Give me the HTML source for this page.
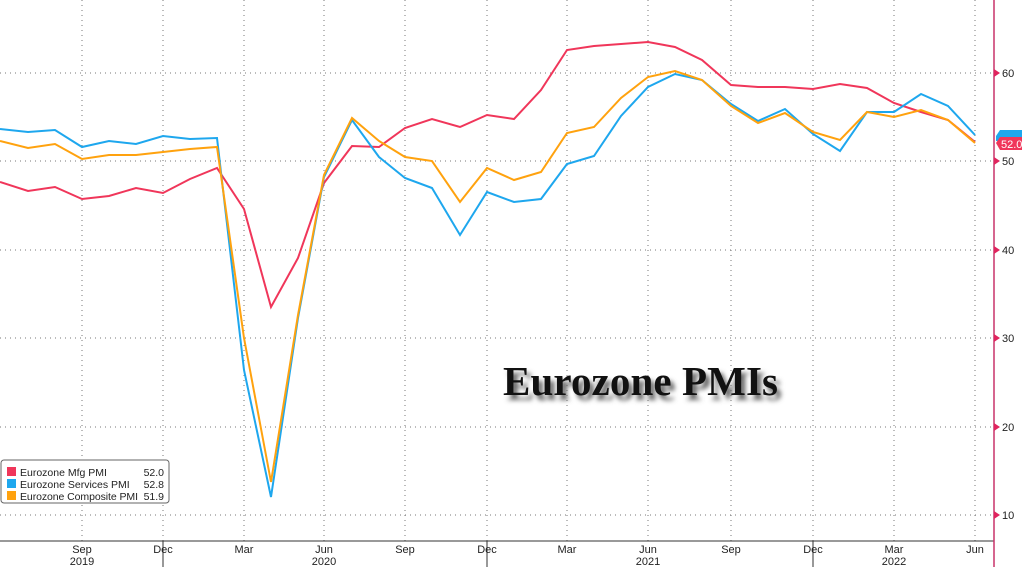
<!DOCTYPE html>
<html><head><meta charset="utf-8"><style>
body{margin:0;background:#fff;}
svg{display:block;font-family:"Liberation Sans",sans-serif;}
</style></head><body>
<svg width="1024" height="567" viewBox="0 0 1024 567">
<defs><filter id="b" x="-10%" y="-30%" width="120%" height="160%"><feGaussianBlur stdDeviation="2.5"/></filter></defs>
<rect width="1024" height="567" fill="#fff"/>
<g stroke="#777" stroke-width="1" stroke-dasharray="1,4">
<line x1="0" y1="73" x2="994" y2="73"/><line x1="0" y1="161" x2="994" y2="161"/>
<line x1="0" y1="250" x2="994" y2="250"/><line x1="0" y1="338" x2="994" y2="338"/>
<line x1="0" y1="427" x2="994" y2="427"/><line x1="0" y1="515" x2="994" y2="515"/>
<line x1="82" y1="0" x2="82" y2="541"/><line x1="163" y1="0" x2="163" y2="541"/>
<line x1="244" y1="0" x2="244" y2="541"/><line x1="324" y1="0" x2="324" y2="541"/>
<line x1="405" y1="0" x2="405" y2="541"/><line x1="487" y1="0" x2="487" y2="541"/>
<line x1="567" y1="0" x2="567" y2="541"/><line x1="648" y1="0" x2="648" y2="541"/>
<line x1="731" y1="0" x2="731" y2="541"/><line x1="813" y1="0" x2="813" y2="541"/>
<line x1="894" y1="0" x2="894" y2="541"/><line x1="975" y1="0" x2="975" y2="541"/>
</g>
<line x1="0" y1="541" x2="994" y2="541" stroke="#333"/>
<g stroke="#333"><line x1="487" y1="541" x2="487" y2="567"/><line x1="163" y1="541" x2="163" y2="567"/><line x1="813" y1="541" x2="813" y2="567"/></g>
<line x1="994" y1="0" x2="994" y2="567" stroke="#c8336a" stroke-width="1.5"/>
<text x="507" y="400" font-family="Liberation Serif,serif" font-weight="bold" font-size="41" fill="#666" filter="url(#b)" textLength="275">Eurozone PMIs</text>
<text x="503" y="395" font-family="Liberation Serif,serif" font-weight="bold" font-size="41" fill="#111" textLength="275">Eurozone PMIs</text>
<polyline fill="none" stroke="#f0365a" stroke-width="2" points="0,182 28,191 55,187 82,199 109,196 136,188 163,193 190,179 217,168 244,209 271,307 298,258 324,183 352,146 379,147 405,128 432,119 460,127 487,115 514,119 541,90 567,50 594,46 621,44 648,42 675,47 702,60 731,85 758,87 785,87 813,89 840,84 867,88 894,103 921,112 948,120 975,142"/>
<polyline fill="none" stroke="#1ea7ee" stroke-width="2" points="0,129 28,132 55,130 82,147 109,141 136,144 163,136 190,139 217,138 244,370 271,497 298,318 324,177 352,120 379,157 405,178 432,188 460,235 487,192 514,202 541,199 567,164 594,156 621,116 648,87 675,74 702,80 731,104 758,121 785,109 813,134 840,151 867,112 894,112 921,94 948,106 975,135"/>
<polyline fill="none" stroke="#ffa20e" stroke-width="2" points="0,141 28,148 55,144 82,159 109,155 136,155 163,152 190,149 217,147 244,338 271,482 298,315 324,175 352,118 379,141 405,157 432,161 460,202 487,168 514,180 541,172 567,133 594,127 621,98 648,77 675,71 702,80 731,106 758,123 785,113 813,132 840,140 867,112 894,117 921,110 948,120 975,143"/>
<g font-size="11" fill="#222">
<path d="M994,69 l6,4 l-6,4z" fill="#e0245e"/><text x="1002" y="77">60</text>
<path d="M994,157 l6,4 l-6,4z" fill="#e0245e"/><text x="1002" y="165">50</text>
<path d="M994,246 l6,4 l-6,4z" fill="#e0245e"/><text x="1002" y="254">40</text>
<path d="M994,334 l6,4 l-6,4z" fill="#e0245e"/><text x="1002" y="342">30</text>
<path d="M994,423 l6,4 l-6,4z" fill="#e0245e"/><text x="1002" y="431">20</text>
<path d="M994,511 l6,4 l-6,4z" fill="#e0245e"/><text x="1002" y="519">10</text>
</g>
<path d="M996,136 l4,-6 h22 v11 h-26z" fill="#1ea7ee"/>
<path d="M996,143 l4,-6 h22 v13 h-22z" fill="#f0365a"/>
<text x="1001" y="148" font-size="11" fill="#fff">52.0</text>
<g font-size="11" fill="#222" text-anchor="middle">
<text x="82" y="553">Sep</text><text x="82" y="565">2019</text>
<text x="163" y="553">Dec</text><text x="244" y="553">Mar</text>
<text x="324" y="553">Jun</text><text x="324" y="565">2020</text>
<text x="405" y="553">Sep</text><text x="487" y="553">Dec</text>
<text x="567" y="553">Mar</text><text x="648" y="553">Jun</text><text x="648" y="565">2021</text>
<text x="731" y="553">Sep</text><text x="813" y="553">Dec</text>
<text x="894" y="553">Mar</text><text x="975" y="553">Jun</text><text x="894" y="565">2022</text>
</g>
<rect x="1" y="460" width="168" height="43" rx="3" fill="#fff" stroke="#666"/>
<rect x="7" y="467" width="9" height="9" fill="#f0365a"/>
<rect x="7" y="479" width="9" height="9" fill="#1ea7ee"/>
<rect x="7" y="491" width="9" height="9" fill="#ffa20e"/>
<g font-size="10.5" fill="#222">
<text x="20" y="476">Eurozone Mfg PMI</text>
<text x="20" y="488">Eurozone Services PMI</text>
<text x="20" y="500" textLength="118">Eurozone Composite PMI</text>
</g>
<g font-size="10.5" fill="#222" text-anchor="end">
<text x="164" y="476">52.0</text><text x="164" y="488">52.8</text><text x="164" y="500">51.9</text>
</g>
</svg>
</body></html>
